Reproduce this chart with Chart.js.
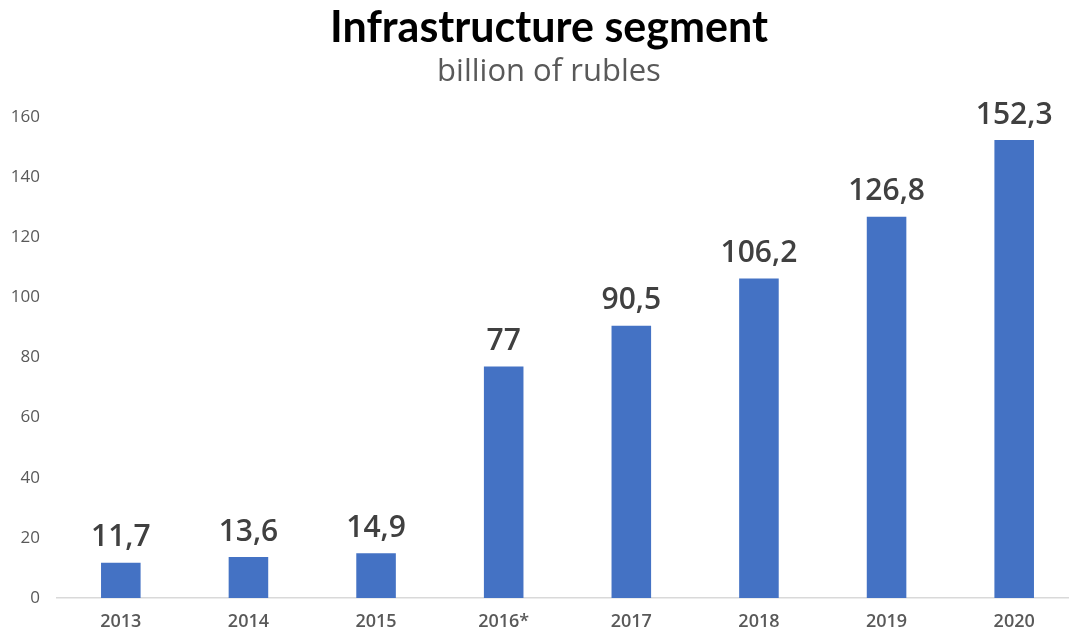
<!DOCTYPE html>
<html>
<head>
<meta charset="utf-8">
<script src="https://cdn.jsdelivr.net/npm/chart.js@4"></script>
<style>
  html, body { margin: 0; padding: 0; background: #fff; overflow: hidden; }
  #wrap { position: relative; width: 1098px; height: 636px; }
</style>
</head>
<body>
<div id="wrap"><canvas id="c"></canvas></div>
<script>
const categories = ["2013", "2014", "2015", "2016*", "2017", "2018", "2019", "2020"];
const values = [11.7, 13.6, 14.9, 77, 90.5, 106.2, 126.8, 152.3];
const valueLabels = ["11,7", "13,6", "14,9", "77", "90,5", "106,2", "126,8", "152,3"];
const titleText = "Infrastructure segment";
const subtitleText = "billion of rubles";

const valueLabelPlugin = {
  id: 'valueLabels',
  afterLayout(chart) {
    // let y tick labels extend into the left padding without being clipped
    if (chart.scales.y) chart.scales.y.left = 0;
  },
  afterDatasetsDraw(chart) {
    const ctx = chart.ctx;
    const meta = chart.getDatasetMeta(0);
    ctx.save();
    ctx.font = '600 30px "Open Sans"';
    ctx.fillStyle = '#404040';
    ctx.textAlign = 'center';
    ctx.textBaseline = 'bottom';
    meta.data.forEach((bar, i) => {
      ctx.fillText(valueLabels[i], bar.x, bar.y - 10);
    });
    ctx.restore();
  }
};

new Chart(document.getElementById('c'), {
  type: 'bar',
  data: {
    labels: categories,
    datasets: [{
      data: values,
      backgroundColor: '#4472C4',
      borderWidth: 0,
      categoryPercentage: 1,
      barPercentage: 0.31
    }]
  },
  options: {
    responsive: true,
    maintainAspectRatio: false,
    animation: false,
    layout: { padding: { left: 20, right: 20, top: 0, bottom: 2 } },
    plugins: {
      legend: { display: false },
      tooltip: { enabled: false },
      title: {
        display: true,
        text: titleText,
        color: '#000000',
        font: { family: 'Lato', size: 43, weight: 'bold' },
        padding: { top: 2, bottom: 0 }
      },
      subtitle: {
        display: true,
        text: subtitleText,
        color: '#595959',
        font: { family: 'Open Sans', size: 31, weight: 'normal' },
        padding: { top: 0, bottom: 26 }
      }
    },
    scales: {
      x: {
        grid: { display: false, drawTicks: false },
        border: { display: true, color: '#d9d9d9', width: 1.5 },
        ticks: {
          color: '#595959',
          font: { family: 'Open Sans', size: 18, weight: '600' },
          padding: 13,
          maxRotation: 0
        },
        afterFit(scale) { scale.height = 36; }
      },
      y: {
        min: 0,
        max: 160,
        grid: { display: false, drawTicks: false },
        border: { display: false },
        ticks: {
          stepSize: 20,
          color: '#595959',
          font: { family: 'Open Sans', size: 17 },
          padding: 17
        },
        afterFit(scale) { scale.width = 37; }
      }
    }
  },
  plugins: [valueLabelPlugin]
});
</script>
</body>
</html>
